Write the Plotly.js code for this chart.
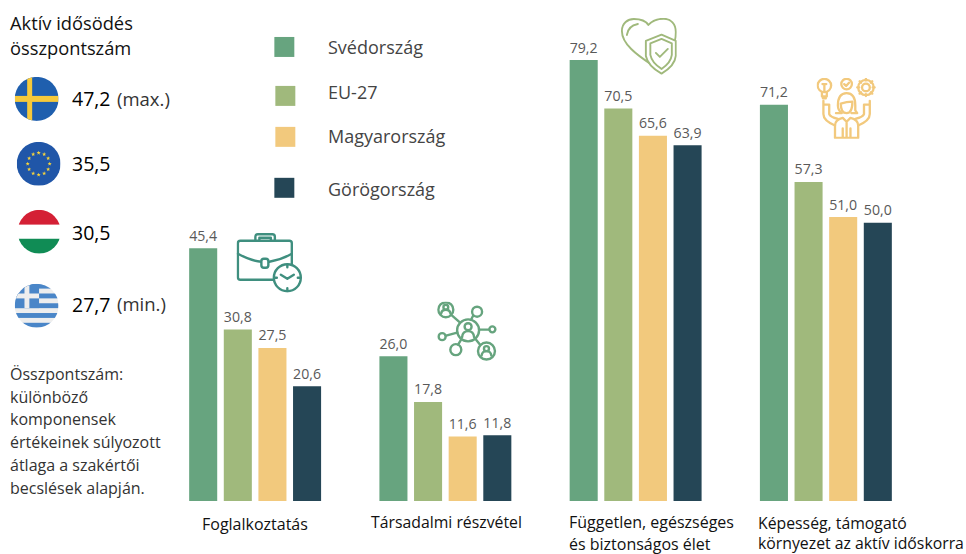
<!DOCTYPE html>
<html><head><meta charset="utf-8">
<script src="https://cdn.plot.ly/plotly-3.0.1.min.js"></script>
<style>html,body{margin:0;padding:0;background:#fff}#c{width:966px;height:554px}</style>
</head><body><div id="c"></div>
<script>
const categories = ["Foglalkoztatás","Társadalmi részvétel","Független, egészséges és biztonságos élet","Képesség, támogató környezet az aktív időskorra"];
const sweden = [45.4,26.0,79.2,71.2];
const eu27 = [30.8,17.8,70.5,57.3];
const hungary = [27.5,11.6,65.6,51.0];
const greece = [20.6,11.8,63.9,50.0];
const seriesNames = ["Svédország","EU-27","Magyarország","Görögország"];
const seriesColors = ["#67a47f","#a0b97c","#f2c97d","#254656"];
const F = '"Open Sans", "Noto Sans", sans-serif';

const L=159.5,R=921.5,B=501.5,W=966,H=554;
const px=x=>(x-L)/(R-L), py=y=>(B-y)/B;
const anns=[];
function txt(t,x,y,size,color){anns.push({text:t,xref:'paper',yref:'paper',x:px(x-2),y:py(y),xanchor:'left',yanchor:'middle',align:'left',showarrow:false,borderpad:0,font:{family:F,size:size,color:color||'#111'}});}

txt('Aktív idősödés',10,23,18.3);
txt('összpontszám',10,48,18.3);
txt('47,2',72,99,19.5,'#000');txt('(max.)',117,99,18.5,'#333');
txt('35,5',72,164,19.5,'#000');
txt('30,5',72,233,19.5,'#000');
txt('27,7',72,305,19.5,'#000');txt('(min.)',117,304,18.5,'#333');
["Összpontszám:","különböző","komponensek","értékeinek súlyozott","átlaga a szakértői","becslések alapján."].forEach((t,i)=>txt(t,10,374+i*22.9,16,'#333'));
[[seriesNames[0],47],[seriesNames[1],92],[seriesNames[2],136],[seriesNames[3],189]].forEach(a=>txt(a[0],329,a[1],18,'#444'));
txt('Foglalkoztatás',203,525,16);
txt('Társadalmi részvétel',372,523,15.8);
txt('Független, egészséges',570,523,16);
txt('és biztonságos élet',570,545,16);
txt('Képesség, támogató',759,523.5,15.8);
txt('környezet az aktív időskorra',759,544,15.8);

const shapes=[[274,37],[275,86],[275,127],[274,178]].map((p,i)=>({type:'rect',xref:'paper',yref:'paper',x0:px(p[0]),x1:px(p[0]+20),y0:py(p[1]),y1:py(p[1]+20),fillcolor:seriesColors[i],line:{width:0}}));

function img(svg,x,y,w,h){return {source:'data:image/svg+xml;charset=utf-8,'+encodeURIComponent(svg),xref:'paper',yref:'paper',x:px(x),y:py(y),sizex:w/(R-L),sizey:h/B,sizing:'stretch',xanchor:'left',yanchor:'top',layer:'above'};}
function flag(inner){return `<svg xmlns="http://www.w3.org/2000/svg" width="176" height="176" viewBox="0 0 44 44"><defs><clipPath id="c"><circle cx="22" cy="22" r="22"/></clipPath></defs><g clip-path="url(#c)">${inner}</g></svg>`;}
const se=flag('<rect width="44" height="44" fill="#1f5fae"/><rect x="12.5" width="5" height="44" fill="#f6c93a"/><rect y="19" width="44" height="6" fill="#f6c93a"/>');
let stars='';for(let i=0;i<12;i++){const a=i*Math.PI/6;const cx=22+11*Math.sin(a),cy=22-11*Math.cos(a);let p='';for(let k=0;k<10;k++){const r=k%2?0.9:2.2,b=k*Math.PI/5;p+=(cx+r*Math.sin(b)).toFixed(2)+','+(cy-r*Math.cos(b)).toFixed(2)+' ';}stars+=`<polygon points="${p}" fill="#f6d33c"/>`;}
const eu=flag('<rect width="44" height="44" fill="#2056a8"/>'+stars);
const hu=flag('<rect width="44" height="15" fill="#d42035"/><rect y="15" width="44" height="15" fill="#fff"/><rect y="29" width="44" height="15" fill="#108c55"/>');
let gr='<rect width="44" height="44" fill="#eeeeee"/>';for(let i=0;i<9;i+=2){gr+=`<rect y="${(i*4.89).toFixed(2)}" width="44" height="4.89" fill="#4a86c8"/>`;}
gr+='<rect width="24.4" height="24.4" fill="#4a86c8"/><rect x="9.8" width="4.9" height="24.4" fill="#eeeeee"/><rect y="9.8" width="24.4" height="4.9" fill="#eeeeee"/>';
const grf=flag(gr);

const svgOpen=(w,h,c,sw)=>`<svg xmlns="http://www.w3.org/2000/svg" width="${w*3}" height="${h*3}" viewBox="0 0 ${w} ${h}"><g fill="none" stroke="${c}" stroke-width="${sw}" stroke-linecap="round" stroke-linejoin="round">`;
const close='</g></svg>';
const brief=svgOpen(66,60,'#3f8f7f',2.4)+'<path d="M19 8V4q0-2.5 2.5-2.5H36q2.5 0 2.5 2.5V8M23 8V5h11.5v3"/><rect x="1.5" y="8" width="54" height="39" rx="2.5" fill="#fff"/><path d="M1.5 21Q14 28 25 29M33 29Q45 27 55.5 21"/><rect x="25" y="26" width="7" height="9" rx="2.5" fill="#fff"/><circle cx="51" cy="45" r="13.5" fill="#fff"/><path d="M44.5 42L51 46L57.5 42M51 32V34.5M51 55.5V58M38 45H40.5M61.5 45H64"/>'+close;
const net=svgOpen(60,60,'#66a47e',2.4)+'<path d="M15 14L23 21M36 14L34 18M42 28L52 28M20 31L9 34M24 38L21 43M39 38L43 43"/><circle cx="8.7" cy="8" r="7.5"/><circle cx="40" cy="10" r="5"/><circle cx="31" cy="28.7" r="11"/><circle cx="55.3" cy="27.7" r="3"/><circle cx="5" cy="35" r="3.5"/><circle cx="18.7" cy="48" r="5.5"/><circle cx="49.4" cy="49.4" r="8.5"/><circle cx="8.7" cy="5.5" r="2.4"/><path d="M4 12q.5-4 4.7-4t4.7 4"/><circle cx="31" cy="25" r="3.5"/><path d="M25 35.5q.5-6 6-6t6 6"/><circle cx="49.4" cy="47" r="2.5"/><path d="M44.5 54q.5-4.5 4.9-4.5t4.9 4.5"/>'+close;
const heart=svgOpen(56,57,'#a0b97c',1.9)+'<path d="M30.7 46.7C16 37 1 26 1 13C1 5 7 1 13 1C20 1 25 3 27.5 7C31 3 37 .8 43 .8C50 .8 55 6 55 14C55 17 55 20 54 23"/><path d="M6 17Q7 8 17 6"/><path d="M40.7 16.7L55 23V38Q54 48 40.7 55.7Q27 48 25 38V23Z" fill="#fff"/><path d="M40.7 21L51 25.5V37Q50 45 40.7 51Q31 45 29.5 37V25.5Z"/><path d="M35 35L39 39L47 31"/>'+close;
const person=svgOpen(62,64,'#f2c97d',2.4)+'<circle cx="8" cy="8" r="7"/><path d="M5.5 15V19.5H10.5V15M6.5 21.5H9.5M8 14V8M6 6.5h4"/><circle cx="31" cy="6.5" r="5.5"/><path d="M28.5 6.5l2 2l3-3.5"/><circle cx="51" cy="10" r="4"/><circle cx="51" cy="10" r="8"/><path d="M51 .8v2M51 17v2M42 10h2M58 10h2M44.5 3.5l1.5 1.5M56 15l1.5 1.5M57.5 3.5L56 5M46 15l-1.500 1.500"/><path d="M22 29Q22 16 31 16Q40 16 40 29V34L42 37H36M20 37H26Q22 34 22 29"/><path d="M25 27Q31 25 37 25M25 27Q25 37 31 37Q37 37 37 25"/><path d="M19 63V50Q19 44 27 42L31 46L35 42Q43 44 43 50V63H19ZM31 46V63M27 63V53M35 63V53"/><path d="M7 28L7 24M7 28V38Q7 45 19 50M13 28V38Q14 41 22 43M7 28H13M55 28V24M55 28V38Q55 45 43 50M49 28V38Q48 41 40 43M49 28H55"/>'+close;

const images=[img(se,14,77,44,44),img(eu,16,142,44,44),img(hu,17,210,43,44),img(grf,14,284,44,44),
 img(brief,236,233,66,60),img(net,437,302,60,60),img(heart,621,18,56,57),img(person,817,78,60,61)];

const valueSets=[sweden,eu27,hungary,greece];
const traces=valueSets.map((v,i)=>({type:'bar',name:seriesNames[i],x:categories,y:v,marker:{color:seriesColors[i],line:{width:4,color:'rgba(0,0,0,0)'}},
 texttemplate:'%{y:.1f}',textposition:'outside',cliponaxis:false,textfont:{family:F,size:15.5,color:'#595959'},hoverinfo:'x+y+name'}));

Plotly.newPlot('c',traces,{
 width:W,height:H,autosize:false,margin:{l:L,r:W-R,t:0,b:H-B,pad:0},
 paper_bgcolor:'#fff',plot_bgcolor:'#fff',showlegend:false,separators:',.',
 barmode:'group',bargap:0.272,bargroupgap:0.19,
 xaxis:{type:'category',categoryorder:'array',categoryarray:categories,showticklabels:false,showgrid:false,zeroline:false,showline:false,ticks:''},
 yaxis:{range:[0,90],showticklabels:false,showgrid:false,zeroline:false,showline:false,ticks:''},
 annotations:anns,shapes:shapes,images:images
},{displayModeBar:false,staticPlot:true});
</script></body></html>
